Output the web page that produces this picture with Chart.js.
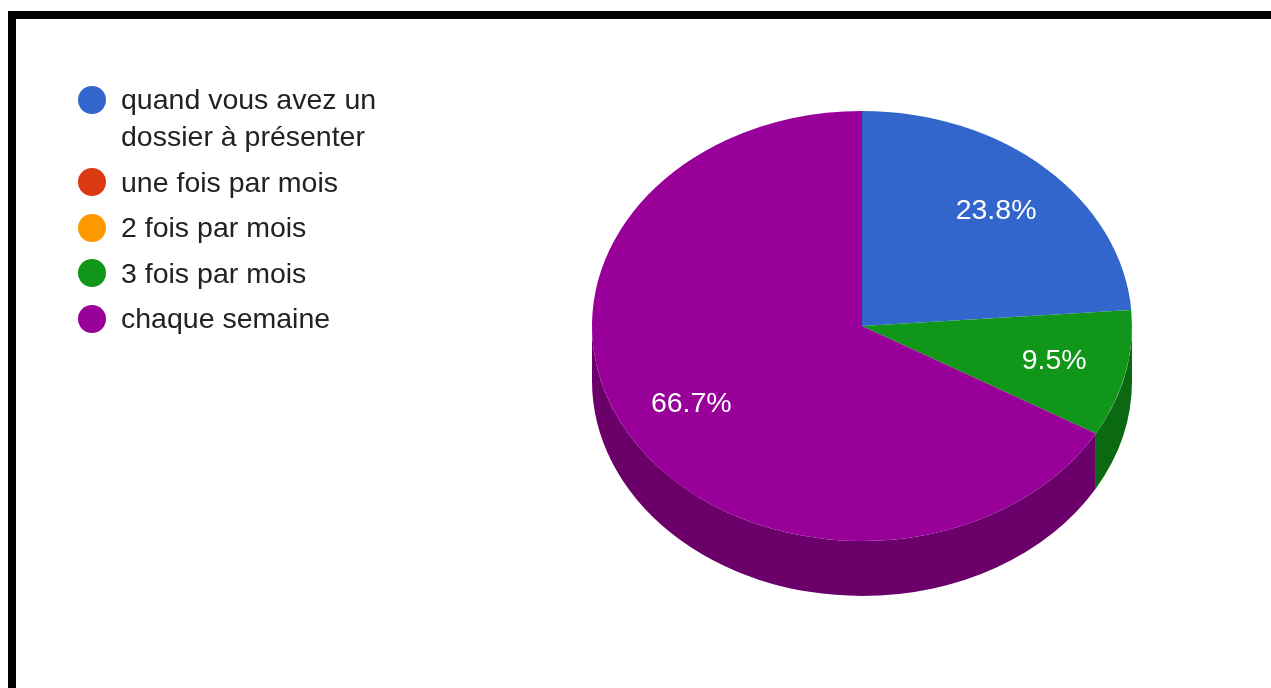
<!DOCTYPE html>
<html>
<head>
<meta charset="utf-8">
<script src="https://cdn.jsdelivr.net/npm/chart.js@4/dist/chart.umd.min.js"></script>
<style>
  html, body { margin: 0; padding: 0; background: #fff; overflow: hidden; }
  body { width: 1271px; height: 688px; position: relative; font-family: Arial, "Liberation Sans", sans-serif; }
  .frame { position: absolute; left: 8px; top: 11px; width: 1300px; height: 720px; border-top: 8px solid #000; border-left: 8px solid #000; }
  #pie { position: absolute; left: 0; top: 0; }
  .legend { position: absolute; left: 78px; top: 81px; margin: 0; padding: 0; list-style: none; }
  .legend li { display: flex; align-items: flex-start; margin-bottom: 8.5px; }
  .legend .dot { width: 28px; height: 28px; border-radius: 50%; margin-top: 4.5px; flex: none; }
  .legend .txt { margin-left: 15px; width: 272px; font-size: 28.5px; line-height: 37px; color: #222; }
</style>
</head>
<body>
<div class="frame"></div>
<canvas id="pie" width="1271" height="688"></canvas>
<ul class="legend" id="legend"></ul>
<script>
// réponses
const labels = ["quand vous avez un dossier à présenter", "une fois par mois", "2 fois par mois", "3 fois par mois", "chaque semaine"];
const counts = [5, 0, 0, 2, 14];

// couleurs (dessus / côté)
const colors = ["#3366cc", "#dc3912", "#ff9900", "#109618", "#990099"];
const sideColors = ["#24478f", "#9a280d", "#b36b00", "#0b6911", "#6b006b"];

const TILT = 215 / 270; // aplatissement vertical du disque
const DEPTH = 55; // épaisseur du camembert en px

// legende html
const legend = document.getElementById("legend");
labels.forEach((lab, i) => {
  const li = document.createElement("li");
  li.innerHTML = '<span class="dot" style="background:' + colors[i] + '"></span><span class="txt">' + lab + "</span>";
  legend.appendChild(li);
});

const total = counts.reduce((a, b) => a + b, 0);

// effet 3D : on ecrase le disque et on ajoute le bord
const pie3d = {
  id: "pie3d",
  beforeDatasetsDraw(chart) {
    const ctx = chart.ctx;
    const arcs = chart.getDatasetMeta(0).data;
    const cx = arcs[0].x;
    const cy = arcs[0].y;
    ctx.save();
    ctx.translate(0, cy);
    ctx.scale(1, TILT);
    ctx.translate(0, -cy);
    const d = DEPTH / TILT;
    arcs.forEach((arc, i) => {
      if (counts[i] === 0) return;
      const R = arc.outerRadius;
      let s = arc.startAngle;
      let e = arc.endAngle;
      // ramener dans [-PI, PI)
      while (s >= Math.PI) { s -= 2 * Math.PI; e -= 2 * Math.PI; }
      while (s < -Math.PI) { s += 2 * Math.PI; e += 2 * Math.PI; }
      // seule la moitie avant (angles 0..PI) est visible
      [[0, Math.PI], [2 * Math.PI, 3 * Math.PI]].forEach(([lo, hi]) => {
        const a0 = Math.max(s, lo);
        const a1 = Math.min(e, hi);
        if (a1 <= a0) return;
        ctx.beginPath();
        ctx.moveTo(cx, cy);
        ctx.arc(cx, cy, R, a0, a1);
        ctx.lineTo(cx + R * Math.cos(a1), cy + d + R * Math.sin(a1));
        ctx.arc(cx, cy + d, R, a1, a0, true);
        ctx.lineTo(cx + R * Math.cos(a0), cy + R * Math.sin(a0));
        ctx.closePath();
        ctx.fillStyle = sideColors[i];
        ctx.fill();
      });
    });
  },
  afterDatasetsDraw(chart) {
    const ctx = chart.ctx;
    ctx.restore();
    // pourcentages
    const arcs = chart.getDatasetMeta(0).data;
    ctx.save();
    ctx.fillStyle = "#fff";
    ctx.font = "28.5px Arial, 'Liberation Sans', sans-serif";
    ctx.textAlign = "center";
    ctx.textBaseline = "middle";
    arcs.forEach((arc, i) => {
      if (counts[i] === 0) return;
      const mid = (arc.startAngle + arc.endAngle) / 2;
      const r = arc.outerRadius * 0.73;
      const x = arc.x + r * Math.cos(mid);
      const y = arc.y + r * Math.sin(mid) * TILT;
      ctx.fillText(((counts[i] / total) * 100).toFixed(1) + "%", x, y);
    });
    ctx.restore();
  },
};

const pieChart = new Chart(document.getElementById("pie"), {
  type: "pie",
  data: {
    labels: labels,
    datasets: [
      {
        data: counts,
        backgroundColor: colors,
        borderWidth: 0,
      },
    ],
  },
  options: {
    responsive: false,
    animation: false,
    layout: {
      padding: { left: 592, right: 139, top: 56, bottom: 92 },
    },
    plugins: {
      legend: { display: false },
      tooltip: { enabled: false },
    },
  },
  plugins: [pie3d],
});
</script>
</body>
</html>
